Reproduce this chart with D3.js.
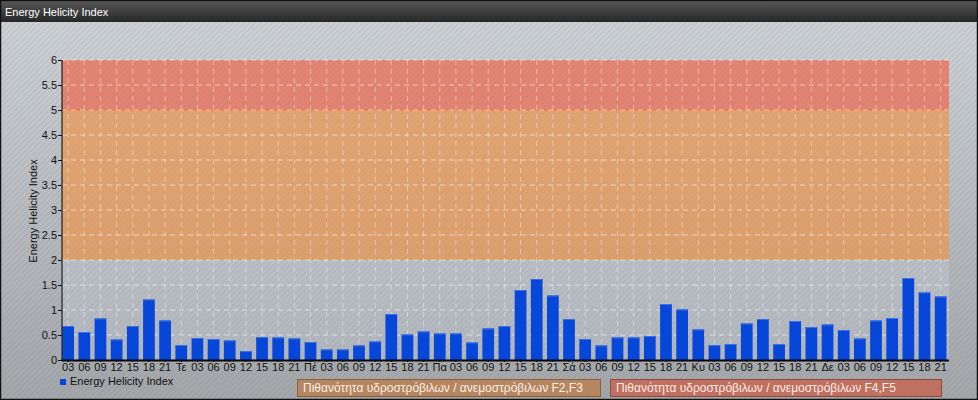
<!DOCTYPE html>
<html>
<head>
<meta charset="utf-8">
<script src="https://cdn.jsdelivr.net/npm/d3@7"></script>
<style>
  html, body { margin: 0; padding: 0; background: #fff; }
  svg { display: block; font-family: "Liberation Sans", Arial, sans-serif; }
</style>
</head>
<body>
<svg id="chart" width="978" height="400"></svg>
<script>
// ---- data ----
const title = "Energy Helicity Index";
const seriesName = "Energy Helicity Index";
const categories = [
  "03","06","09","12","15","18","21",
  "Τε","03","06","09","12","15","18","21",
  "Πέ","03","06","09","12","15","18","21",
  "Πα","03","06","09","12","15","18","21",
  "Σά","03","06","09","12","15","18","21",
  "Κυ","03","06","09","12","15","18","21",
  "Δε","03","06","09","12","15","18","21"
];
const values = [
  0.68,0.56,0.83,0.41,0.68,1.21,0.79,
  0.30,0.44,0.42,0.39,0.18,0.46,0.45,0.43,
  0.36,0.21,0.21,0.29,0.37,0.92,0.51,0.57,
  0.53,0.53,0.35,0.63,0.68,1.40,1.62,1.29,
  0.82,0.42,0.29,0.45,0.45,0.48,1.12,1.01,
  0.61,0.30,0.32,0.73,0.82,0.32,0.78,0.66,
  0.71,0.60,0.43,0.79,0.84,1.64,1.35,1.27
];
const yTicks = [0,0.5,1,1.5,2,2.5,3,3.5,4,4.5,5,5.5,6];
const bandRanges = [
  {from: 5, to: 6, label: "Πιθανότητα υδροστρόβιλων / ανεμοστρόβιλων F4,F5"},
  {from: 2, to: 5, label: "Πιθανότητα υδροστρόβιλων / ανεμοστρόβιλων F2,F3"}
];

// ---- drawing ----
(function () {
const W = 978, H = 400;
const svg = d3.select("#chart");
const defs = svg.append("defs");

const bg = defs.append("linearGradient").attr("id","bgGrad")
  .attr("x1",0).attr("y1",0).attr("x2",0).attr("y2",1);
bg.append("stop").attr("offset","0%").attr("stop-color","#d0d4d9");
bg.append("stop").attr("offset","100%").attr("stop-color","#a4a7aa");

const tg = defs.append("linearGradient").attr("id","titleGrad")
  .attr("x1",0).attr("y1",0).attr("x2",0).attr("y2",1);
tg.append("stop").attr("offset","0%").attr("stop-color","#5a5a5a");
tg.append("stop").attr("offset","100%").attr("stop-color","#262626");

const pat = defs.append("pattern").attr("id","stripes")
  .attr("width",4).attr("height",4).attr("patternUnits","userSpaceOnUse")
  .attr("patternTransform","rotate(45)");
pat.append("rect").attr("width",1.4).attr("height",4).attr("fill","rgba(90,100,115,0.13)");

// background
svg.append("rect").attr("width",W).attr("height",H).attr("fill","url(#bgGrad)");
svg.append("rect").attr("width",W).attr("height",H).attr("fill","url(#stripes)");

// title bar
svg.append("rect").attr("x",0).attr("y",0).attr("width",W).attr("height",22).attr("fill","url(#titleGrad)");
svg.append("text").attr("x",5).attr("y",16).attr("fill","#fff")
  .style("font-size","11px").text(title);

// outer frame
svg.append("rect").attr("x",0.5).attr("y",0.5).attr("width",W-1).attr("height",H-1)
  .attr("fill","none").attr("stroke","#111").attr("stroke-width",1.5);

const pL = 62, pR = 949, pT = 60, pB = 360;
const x = d3.scaleBand().domain(d3.range(categories.length))
  .range([pL + 0.3, pR - 2.5]).paddingInner(0.275).paddingOuter(0);
const y = d3.scaleLinear().domain([0,6]).range([pB, pT]);

// plot bands
svg.append("rect").attr("x",pL).attr("width",pR-pL)
  .attr("y",y(2)).attr("height",y(0)-y(2)).attr("fill","rgba(215,225,240,0.22)");
svg.append("rect").attr("x",pL).attr("width",pR-pL)
  .attr("y",y(5)).attr("height",y(2)-y(5)).attr("fill","rgba(236,150,80,0.72)");
svg.append("rect").attr("x",pL).attr("width",pR-pL)
  .attr("y",y(6)).attr("height",y(5)-y(6)).attr("fill","rgba(236,105,80,0.72)");
svg.append("line").attr("x1",pL).attr("x2",pR).attr("y1",y(5)).attr("y2",y(5))
  .attr("stroke","#f07840").attr("stroke-width",1.2);

// grid
const grid = svg.append("g");
grid.selectAll(".hg").data(yTicks.filter(d => d > 0)).join("line")
  .attr("x1",pL).attr("x2",pR).attr("y1",d => y(d)).attr("y2",d => y(d))
  .attr("stroke","rgba(255,255,255,0.55)").attr("stroke-dasharray","5,4");
grid.selectAll(".vg").data(d3.range(categories.length)).join("line")
  .attr("x1",d => x(d)+x.bandwidth()/2).attr("x2",d => x(d)+x.bandwidth()/2)
  .attr("y1",pT).attr("y2",pB)
  .attr("stroke","rgba(255,255,255,0.4)").attr("stroke-dasharray","5,4");

// bars
svg.append("g").selectAll("rect").data(values).join("rect")
  .attr("x",(d,i) => x(i)).attr("width",x.bandwidth())
  .attr("y",d => y(d)).attr("height",d => y(0)-y(d))
  .attr("fill","#0647d9");
svg.append("g").selectAll("line").data(values).join("line")
  .attr("x1",(d,i) => x(i)).attr("x2",(d,i) => x(i)+x.bandwidth())
  .attr("y1",d => y(d)+0.5).attr("y2",d => y(d)+0.5)
  .attr("stroke","#3a6fe6").attr("stroke-width",1);

// axes
const xAxis = svg.append("g").attr("transform",`translate(0,${pB})`)
  .call(d3.axisBottom(x).tickFormat(i => categories[i]).tickSize(2).tickSizeOuter(0));
xAxis.select(".domain").remove();
xAxis.selectAll("text").attr("fill","#111").style("font-size","11px").attr("dy","0.85em").attr("y",2);
xAxis.selectAll(".tick line").attr("stroke","#111");
svg.append("line").attr("x1",pL).attr("x2",pR).attr("y1",pB+0.5).attr("y2",pB+0.5)
  .attr("stroke","#000").attr("stroke-width",2);

const yAxis = svg.append("g").attr("transform",`translate(${pL},0)`)
  .call(d3.axisLeft(y).tickValues(yTicks).tickFormat(d => String(d)).tickSize(4).tickSizeOuter(0));
yAxis.select(".domain").remove();
yAxis.selectAll("text").attr("fill","#111").style("font-size","11px").attr("x",-5);
yAxis.selectAll(".tick line").attr("stroke","#111");
svg.append("line").attr("x1",pL).attr("x2",pL).attr("y1",pT).attr("y2",pB)
  .attr("stroke","#000").attr("stroke-width",1);

svg.append("text").attr("transform",`translate(37,${(pT+pB)/2 + 1}) rotate(-90)`)
  .attr("text-anchor","middle").attr("fill","#111").style("font-size","11px").text(seriesName);

// legend
svg.append("rect").attr("x",60).attr("y",379).attr("width",6).attr("height",6).attr("fill","#0647d9");
svg.append("text").attr("x",70).attr("y",385).attr("fill","#111").style("font-size","11px").text(seriesName);

const legendBoxes = [
  {x0: 297, x1: 600, fill: "#b58660", stroke: "#8c5e3c", label: bandRanges[1].label},
  {x0: 610, x1: 941, fill: "#c07060", stroke: "#8f4a3e", label: bandRanges[0].label}
];
const lg = svg.append("g").selectAll("g").data(legendBoxes).join("g");
lg.append("rect").attr("x",d => d.x0+0.5).attr("y",379.5).attr("width",d => d.x1-d.x0).attr("height",17)
  .attr("fill",d => d.fill).attr("stroke",d => d.stroke);
lg.append("text").attr("x",d => d.x0+6).attr("y",392).attr("fill","#fbeee4")
  .style("font-size","12px").text(d => d.label);
})();
</script>
</body>
</html>
